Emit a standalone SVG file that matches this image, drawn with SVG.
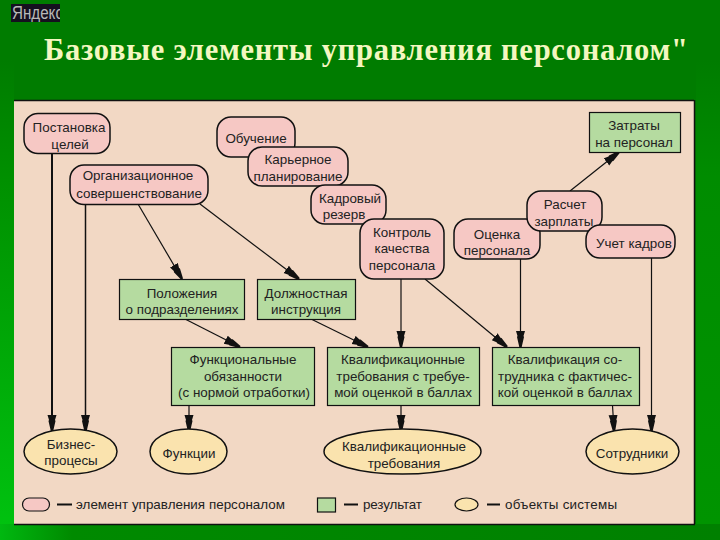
<svg xmlns="http://www.w3.org/2000/svg" width="720" height="540" viewBox="0 0 720 540">
<style>
text{font-family:"Liberation Sans",Arial,sans-serif;font-size:13.400px;fill:#222;text-anchor:middle}
.p{fill:#f6c8c4;stroke:#111;stroke-width:1.5}
.r{fill:#b5dba0;stroke:#111;stroke-width:1.2}
.e{fill:#fae3ae;stroke:#111;stroke-width:1.5}
.c{fill:none;stroke:#111;stroke-width:1.200}
.a{marker-end:url(#h)}
.l{text-anchor:start}
.d{stroke:#111;stroke-width:2}
</style>
<defs>
<marker id="h" markerUnits="userSpaceOnUse" markerWidth="18" markerHeight="12" refX="16" refY="5" orient="auto"><path d="M0 0.500L5 2L6 1.500L16 3.800V6.200L6 8.500L5 8L0 9.500Z" fill="#111"/></marker>
<linearGradient id="lg" x1="0" y1="0" x2="0" y2="1"><stop offset="0" stop-color="#007c00"/><stop offset=".25" stop-color="#009000"/><stop offset="1" stop-color="#00c410"/></linearGradient>
<linearGradient id="bg" x1="0" y1="0" x2="1" y2="0"><stop offset="0" stop-color="#00b810"/><stop offset=".1" stop-color="#008a00"/><stop offset="1" stop-color="#008000"/></linearGradient>
<linearGradient id="rg" x1="0" y1="0" x2="0" y2="1"><stop offset="0" stop-color="#007c00"/><stop offset=".25" stop-color="#008c00"/><stop offset="1" stop-color="#009400"/></linearGradient>
<clipPath id="lc"><rect x="11" y="4" width="49" height="18"/></clipPath>
</defs>
<rect width="720" height="540" fill="#007c00"/>
<rect x="0" y="60" width="14" height="480" fill="url(#lg)"/>
<rect x="0" y="524" width="720" height="16" fill="url(#bg)"/>
<rect x="696" y="60" width="24" height="464" fill="url(#rg)"/>
<g id="logo"><rect x="11" y="4" width="49" height="18" fill="#15101f"/><text x="12" y="19" clip-path="url(#lc)" class="l" textLength="51" lengthAdjust="spacingAndGlyphs" style="font-size:18px;fill:#b8b8b8">Яндекс</text></g>
<text id="title" x="44" y="60" class="l" textLength="644" lengthAdjust="spacing" style="font-family:'Liberation Serif',serif;font-weight:bold;font-size:30.500px;fill:#f4f7c0">Базовые элементы управления персоналом"</text>
<g id="panel"><rect x="14" y="100" width="680" height="424" fill="#f2d8c4"/><path d="M14 100.500H694M694.500 100V524M14 524.500H695" fill="none" stroke="#111" stroke-width="1.500"/></g>
<g id="connectors">
<path class="c a" style="stroke-width:2" d="M52 153V431"/>
<path class="c a" style="stroke-width:1.500" d="M85.500 204V431"/>
<path class="c a" d="M138 204L182 279"/>
<path class="c a" d="M200 204L299 279"/>
<path class="c a" d="M185 319L240 347"/>
<path class="c a" d="M311 319L368 347"/>
<path class="c a" d="M401 279V347"/>
<path class="c a" d="M425 279L507 347"/>
<path class="c a" d="M520.500 259V347"/>
<path class="c a" d="M651.500 258V431"/>
<path class="c a" d="M612.500 405L614 431"/>
<path class="c a" d="M401 405V431"/>
<path class="c a" d="M189 405V431"/>
<path class="c a" d="M570 191L619 152"/>
</g>
<g id="n-celi"><rect class="p" x="24" y="113.500" width="86" height="40" rx="14"/><text x="69" y="132">Постановка</text><text x="70" y="149">целей</text></g>
<g id="n-org"><rect class="p" x="70" y="165" width="138" height="39.500" rx="14"/><text x="138" y="180">Организационное</text><text x="139" y="198">совершенствование</text></g>
<g id="n-obuch"><rect class="p" x="217" y="117" width="78" height="40" rx="14"/><text x="256" y="143">Обучение</text></g>
<g id="n-karier"><rect class="p" x="248" y="147" width="100" height="39" rx="14"/><text x="298" y="164">Карьерное</text><text x="298" y="181">планирование</text></g>
<g id="n-rezerv"><rect class="p" x="311" y="185" width="75" height="39" rx="14"/><text x="350" y="203">Кадровый</text><text x="344" y="219">резерв</text></g>
<g id="n-kontrol"><rect class="p" x="360" y="219" width="84" height="60" rx="14"/><text x="402" y="237">Контроль</text><text x="402" y="253">качества</text><text x="402" y="270">персонала</text></g>
<g id="n-ocenka"><rect class="p" x="454" y="219" width="86" height="40" rx="14"/><text x="497" y="239">Оценка</text><text x="497" y="255">персонала</text></g>
<g id="n-raschet"><rect class="p" x="527" y="191" width="75" height="40" rx="14"/><text x="565" y="209">Расчет</text><text x="564" y="226">зарплаты</text></g>
<g id="n-uchet"><rect class="p" x="586" y="225" width="89" height="33" rx="14"/><text x="634" y="248">Учет кадров</text></g>
<g id="n-zatraty"><rect class="r" x="589.500" y="112.500" width="91" height="40"/><text x="634" y="130">Затраты</text><text x="634" y="147">на персонал</text></g>
<g id="n-polozh"><rect class="r" x="119.500" y="279.500" width="125" height="40"/><text x="182" y="298">Положения</text><text x="182" y="314">о подразделениях</text></g>
<g id="n-dolzh"><rect class="r" x="257.500" y="279.500" width="98" height="40"/><text x="306" y="298">Должностная</text><text x="306" y="314">инструкция</text></g>
<g id="n-funk"><rect class="r" x="171.500" y="347.500" width="143" height="58"/><text x="243" y="364">Функциональные</text><text x="243" y="381">обязанности</text><text x="244" y="397">(с нормой отработки)</text></g>
<g id="n-kvtr"><rect class="r" x="327.500" y="347.500" width="152" height="58"/><text x="403" y="364">Квалификационные</text><text x="403" y="381">требования с требуе-</text><text x="403" y="397">мой оценкой в баллах</text></g>
<g id="n-kvsotr"><rect class="r" x="492.500" y="347.500" width="147" height="58"/><text x="565" y="364">Квалификация со-</text><text x="565" y="381">трудника с фактичес-</text><text x="565" y="397">кой оценкой в баллах</text></g>
<g id="n-biznes"><ellipse class="e" cx="70.500" cy="451.500" rx="46.500" ry="22.500"/><text x="71" y="449">Бизнес-</text><text x="71" y="465">процесы</text></g>
<g id="n-funkcii"><ellipse class="e" cx="188.500" cy="451.500" rx="38.500" ry="22.500"/><text x="189" y="458">Функции</text></g>
<g id="n-kvreq"><ellipse class="e" cx="402.500" cy="451.500" rx="78.500" ry="22.500"/><text x="404" y="451">Квалификационные</text><text x="404" y="468">требования</text></g>
<g id="n-sotr"><ellipse class="e" cx="632.500" cy="451.500" rx="46.500" ry="22.500"/><text x="632" y="458">Сотрудники</text></g>
<g id="legend">
<rect class="p" x="22.500" y="498" width="27" height="13" rx="6.500" style="stroke-width:1.2"/>
<path class="d" d="M57 504.500H72"/>
<text x="76" y="509" class="l" textLength="209" style="font-size:13.400px">элемент управления персоналом</text>
<rect class="r" x="317.500" y="498" width="18" height="14"/>
<path class="d" d="M344 504.500H358"/>
<text x="363" y="509" class="l" textLength="59" style="font-size:13.400px">результат</text>
<ellipse class="e" cx="466.500" cy="504.500" rx="11.500" ry="6.500" style="stroke-width:1.2"/>
<path class="d" d="M487 504.500H500"/>
<text x="505" y="509" class="l" textLength="112" style="font-size:13.400px">объекты системы</text>
</g>
</svg>
